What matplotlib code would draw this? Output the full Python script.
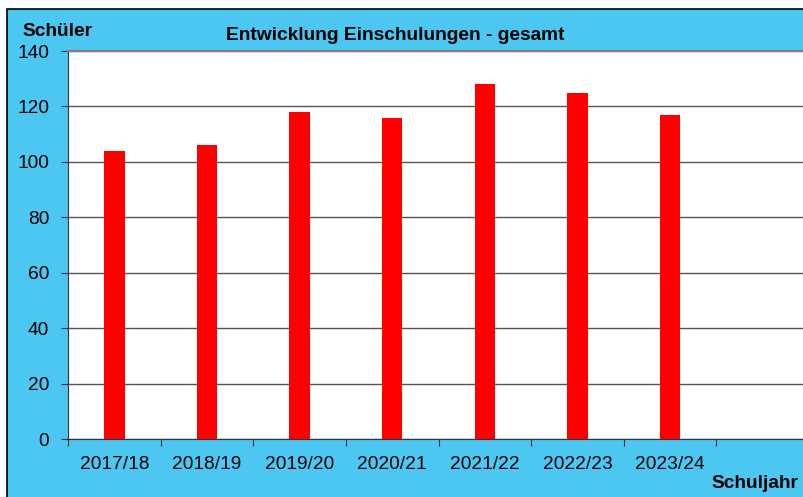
import matplotlib
matplotlib.use('Agg')
import matplotlib.pyplot as plt
from matplotlib.patches import Rectangle

plt.rcParams['font.family'] = ['Liberation Sans', 'DejaVu Sans']

# data
schuljahre = ['2017/18', '2018/19', '2019/20', '2020/21', '2021/22', '2022/23', '2023/24', '']
schueler = [104, 106, 118, 116, 128, 125, 117]

W, H = 804, 497
fig = plt.figure(figsize=(W / 100, H / 100), dpi=100)
fig.patch.set_facecolor('white')

# blue chart area with black frame (runs off the right/bottom edge)
fig.patches.append(Rectangle((7 / W, -0.05), 1.1, 1 - 9 / H + 0.05, transform=fig.transFigure,
                             facecolor='#4BC7F2', edgecolor='black', linewidth=1.2, zorder=-10))

# plot area, last category slot goes past the right edge
ax = fig.add_axes([68 / W, (H - 439) / H, (809 - 68) / W, (439 - 51) / H])
ax.set_facecolor('white')

x = range(len(schueler))
ax.bar(x, schueler, width=0.22, color='#FF0000', zorder=3)

ax.set_xlim(-0.5, len(schuljahre) - 0.5)
ax.set_ylim(0, 140)
ax.set_yticks(range(0, 141, 20))
ax.set_xticks([i - 0.5 for i in range(len(schuljahre) + 1)])
ax.set_xticklabels([])
ax.set_xticks(range(len(schuljahre)), minor=True)
ax.set_xticklabels(schuljahre, minor=True)
ax.tick_params(axis='x', which='minor', length=0, labelsize=13.8, pad=12)
ax.tick_params(axis='x', which='major', length=5, color='#333333', direction='out')
ax.tick_params(axis='y', length=5, color='#333333', labelsize=13.8, pad=8.5)
ax.yaxis.grid(True, color='#555555', linewidth=1, zorder=1)
ax.set_axisbelow(True)

for s in ['right']:
    ax.spines[s].set_visible(False)
ax.spines['top'].set_color('#808080')
ax.spines['top'].set_linewidth(1.5)
ax.spines['left'].set_color('#333333')
ax.spines['bottom'].set_color('#333333')

fig.text(22 / W, 1 - 32 / H, 'Schüler', fontsize=13.8, fontweight='bold', va='center', ha='left')
fig.text(395 / W, 1 - 36 / H, 'Entwicklung Einschulungen - gesamt', fontsize=13.8,
         fontweight='bold', va='center', ha='center')
fig.text(798 / W, 1 - 484 / H, 'Schuljahr', fontsize=13.8, fontweight='bold', va='center', ha='right')

fig.savefig('out.png', dpi=100)
